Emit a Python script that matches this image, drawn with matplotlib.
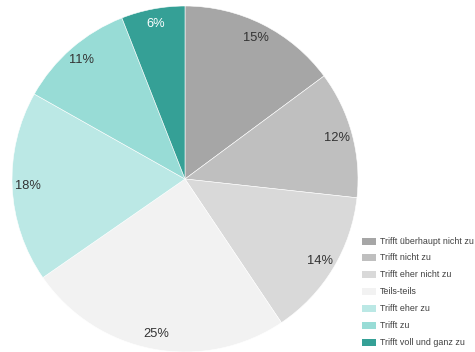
import matplotlib.pyplot as plt
from matplotlib.patches import Rectangle

plt.rcParams['font.family'] = ['Liberation Sans', 'DejaVu Sans']

# Antwortkategorien und Anteile in Prozent
categories = ["Trifft überhaupt nicht zu", "Trifft nicht zu", "Trifft eher nicht zu",
              "Teils-teils", "Trifft eher zu", "Trifft zu", "Trifft voll und ganz zu"]
shares = [15, 12, 14, 25, 18, 11, 6]
colors = ["#a6a6a6", "#bfbfbf", "#d9d9d9", "#f2f2f2", "#bbe8e5", "#98dcd6", "#35a096"]

fig = plt.figure(figsize=(4.75, 3.52), dpi=100)
ax = fig.add_axes([12 / 475, 0, 346 / 475, 346 / 352])

wedges, texts, autotexts = ax.pie(
    shares, colors=colors, startangle=90, counterclock=False, radius=1,
    autopct="", pctdistance=0.91,
    wedgeprops=dict(edgecolor="white", linewidth=0.4))

# Prozentwerte direkt aus den Daten beschriften
for at, val in zip(autotexts, shares):
    at.set_text(f"{val}%")
    at.set_fontsize(9.3)
    at.set_color("#333333")
autotexts[-1].set_color("white")

ax.set_xlim(-1, 1)
ax.set_ylim(-1, 1)
ax.set_aspect("equal")
ax.axis("off")

# Legende rechts unten
y0 = 352 - 241
for i, (lab, col) in enumerate(zip(categories, colors)):
    y = y0 - i * 16.9
    fig.add_artist(Rectangle((362 / 475, (y - 3.5) / 352), 14 / 475, 7 / 352,
                             facecolor=col, edgecolor="none", transform=fig.transFigure))
    fig.text(380 / 475, y / 352, lab, fontsize=6.4, color="#404040",
             va="center", ha="left")

fig.savefig("out.png", dpi=100)
